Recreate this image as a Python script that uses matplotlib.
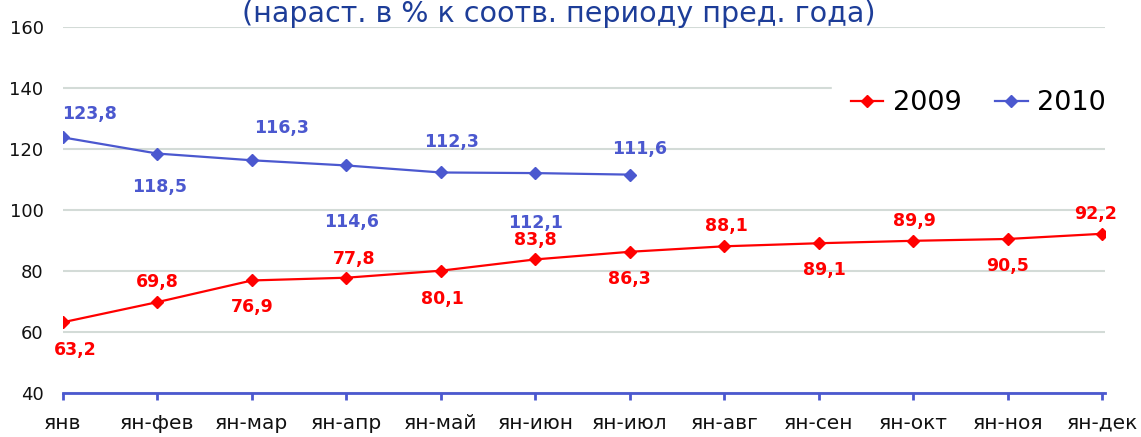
import matplotlib.pyplot as plt
import numpy as np

months = ["янв", "ян-фев", "ян-мар", "ян-апр", "ян-май", "ян-июн",
          "ян-июл", "ян-авг", "ян-сен", "ян-окт", "ян-ноя", "ян-дек"]
vals_2009 = [63.2, 69.8, 76.9, 77.8, 80.1, 83.8, 86.3, 88.1, 89.1, 89.9, 90.5, 92.2]
vals_2010 = [123.8, 118.5, 116.3, 114.6, 112.3, 112.1, 111.6]

red = "#ff0000"
blue = "#4b58cf"
title_blue = "#1d3d98"

# label offsets in pixels (dx, dy) - up is positive
offs_2009 = [(12, -28), (0, 20), (0, -27), (8, 19), (2, -28), (0, 19),
             (0, -27), (2, 20), (6, -27), (1, 20), (0, -27), (-7, 20)]
offs_2010 = [(27, 23), (2, -33), (30, 32), (5, -57), (11, 30), (0, -50), (10, 26)]

fig = plt.figure(figsize=(11.41, 4.37), dpi=100)
ax = fig.add_axes([63 / 1141, 1 - 393 / 437, (1105 - 63) / 1141, (393 - 27) / 437])

x = np.arange(len(months))
ax.plot(x, vals_2009, color=red, lw=1.6, marker="D", ms=6.5, label="2009", zorder=3)
ax.plot(x[:len(vals_2010)], vals_2010, color=blue, lw=1.6, marker="D", ms=6.5,
        label="2010", zorder=3)

px = 72 / 100
for xi, v, (dx, dy) in zip(x, vals_2009, offs_2009):
    ax.annotate(f"{v:.1f}".replace(".", ","), (xi, v), xytext=(dx * px, dy * px),
                textcoords="offset points", ha="center", va="center",
                color=red, fontsize=12.5, fontweight="bold")
for xi, v, (dx, dy) in zip(x, vals_2010, offs_2010):
    ax.annotate(f"{v:.1f}".replace(".", ","), (xi, v), xytext=(dx * px, dy * px),
                textcoords="offset points", ha="center", va="center",
                color=blue, fontsize=12.5, fontweight="bold")

ax.set_xlim(0, 11.03)
ax.set_ylim(40, 160)
ax.set_yticks(range(40, 161, 20))
ax.set_xticks(x)
ax.set_xticklabels(months)
ax.grid(axis="y", color="#d3dbd7", lw=1.5)
ax.set_axisbelow(True)
for s in ["top", "right", "left"]:
    ax.spines[s].set_visible(False)
ax.spines["bottom"].set_color(blue)
ax.spines["bottom"].set_linewidth(2)
ax.tick_params(axis="x", direction="out", length=5, width=2, color=blue,
               labelsize=14.5, pad=10, labelcolor="#111111")
ax.tick_params(axis="y", length=0, labelsize=13, pad=14, labelcolor="#111111")

leg = ax.legend(loc="center right", bbox_to_anchor=(1.019, (393 - 103) / 366), ncol=2,
                fontsize=19.5, frameon=True, handlelength=1.2, handletextpad=0.35,
                columnspacing=1.25, borderaxespad=0, borderpad=0.7)
leg.get_frame().set_facecolor("white")
leg.get_frame().set_edgecolor("white")
leg.get_frame().set_alpha(1)
leg.get_frame().set_boxstyle("square", pad=0)

fig.text(0.49, 1 - 22 / 437, "(нараст. в % к соотв. периоду пред. года)",
         ha="center", va="baseline", fontsize=20.5, color=title_blue)

fig.savefig("out.png", dpi=100)
